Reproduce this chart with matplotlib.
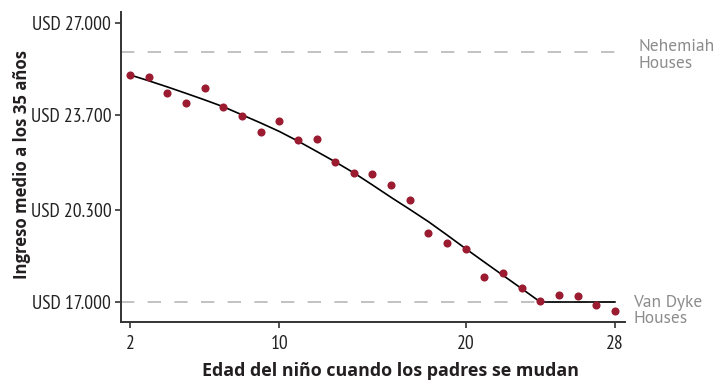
import matplotlib
matplotlib.use("Agg")
import matplotlib.pyplot as plt
import matplotlib.transforms as mtransforms
from matplotlib import font_manager

ages = list(range(2, 29))
income = [25150, 25050, 24500, 24150, 24680, 24000, 23670, 23110, 23470, 22790,
          22840, 22020, 21630, 21600, 21180, 20670, 19460, 19120, 18890, 17900,
          18030, 17500, 17040, 17260, 17220, 16890, 16690]
fit = [25140, 24930, 24710, 24480, 24245, 24000, 23710, 23420, 23115, 22770,
       22400, 22025, 21630, 21195, 20750, 20320, 19880, 19400, 18910, 18430,
       17955, 17480, 17000, 17000, 17000, 17000, 17000]
yticks = [17000, 20300, 23700, 27000]
xticks = [2, 10, 20, 28]
ref_values = [25950, 17000]
ref_labels = ["Nehemiah\nHouses", "Van Dyke\nHouses"]

weights = {}
for f in font_manager.fontManager.ttflist:
    w = f.weight
    if isinstance(w, str):
        w = {"normal": 400, "regular": 400, "bold": 700}.get(w, 400)
    if f.style == "normal":
        weights.setdefault(f.name, set()).add(w)


def pick(cands, need_bold=False):
    for c in cands:
        ws = weights.get(c, set())
        if 400 in ws and (not need_bold or any(w >= 600 for w in ws)):
            return c
    return "DejaVu Sans"


narrow = pick(["PT Sans Narrow", "Fira Sans Condensed", "Roboto Condensed",
               "Archivo Narrow", "Asap Condensed", "Liberation Sans Narrow"])
main = pick(["Source Sans Pro", "Source Sans 3", "PT Sans", "Open Sans"], need_bold=True)
labfont = pick(["Open Sans", "Noto Sans", "PT Sans"], need_bold=True)

fig = plt.figure(figsize=(7.17, 3.8), dpi=100)
ax = fig.add_axes([0.1688, 0.1526, 0.7029, 0.8158])

for v in ref_values:
    ax.axhline(v, color="#b8b8b8", lw=1.2, linestyle=(0, (8, 8)), zorder=1)

ax.plot(ages, fit, color="black", lw=1.2, zorder=2)
ax.scatter(ages, income, s=34, color="#9b1c31", zorder=3, linewidths=0)

ax.set_xlim(1.52, 28.54)
ax.set_ylim(16283, 27394)
ax.set_xticks(xticks)
ax.set_yticks(yticks)
ax.set_yticklabels(["USD " + f"{v:,}".replace(",", ".") for v in yticks])

for s in ["top", "right"]:
    ax.spines[s].set_visible(False)
for s in ["left", "bottom"]:
    ax.spines[s].set_color("#333333")
    ax.spines[s].set_linewidth(1.4)
ax.tick_params(axis="both", length=4, width=1.2, color="#333333",
               labelcolor="#222222", labelsize=14)
for lab in ax.get_xticklabels() + ax.get_yticklabels():
    lab.set_fontfamily(narrow)
ax.tick_params(axis="y", pad=3)
ax.tick_params(axis="x", pad=5)

ax.set_xlabel("Edad del niño cuando los padres se mudan", fontsize=12.9,
              fontweight="bold", fontfamily=labfont, color="#231f20")
ax.set_ylabel("Ingreso medio a los 35 años", fontsize=12.1, fontweight="bold",
              fontfamily=labfont, color="#231f20")
ax.xaxis.set_label_coords(0.535, -0.157)
ax.xaxis.label.set_va("center")
ax.yaxis.set_label_coords(-0.196, 0.508)
ax.yaxis.label.set_va("center")

trans = mtransforms.blended_transform_factory(ax.transAxes, ax.transData)
label_x = [1.0258, 1.016]
label_dy = [3.5, 9]
for v, t, lx, dy in zip(ref_values, ref_labels, label_x, label_dy):
    off = mtransforms.offset_copy(trans, fig=fig, x=0, y=-dy, units="dots")
    ax.text(lx, v, t, transform=off, ha="left", va="center", fontsize=12.5,
            fontfamily=main, color="#8c8c8c", linespacing=1.05, clip_on=False)

fig.savefig("out.png", dpi=100)
